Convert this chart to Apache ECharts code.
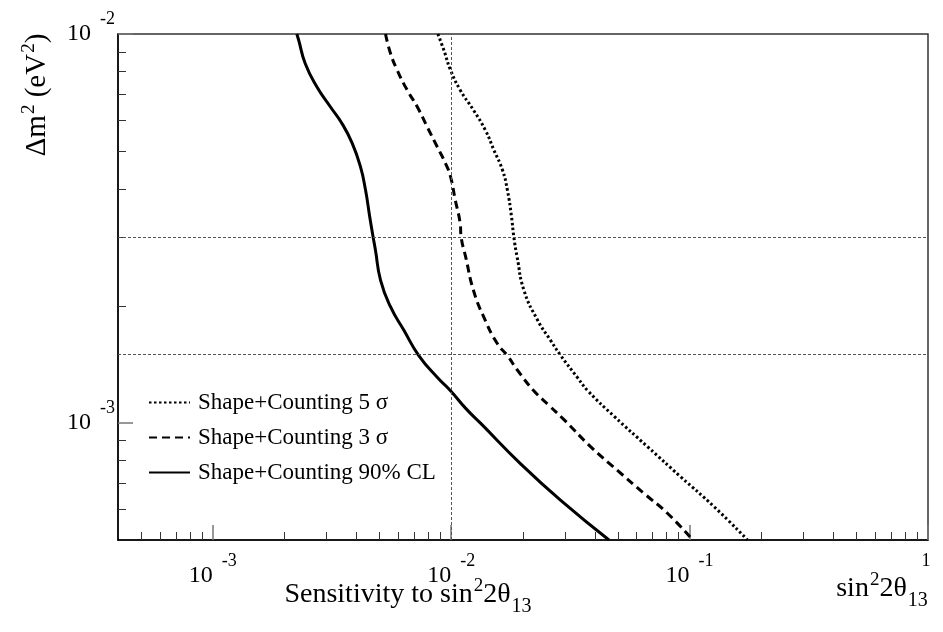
<!DOCTYPE html>
<html>
<head>
<meta charset="utf-8">
<script src="https://cdn.jsdelivr.net/npm/echarts@6/dist/echarts.min.js"></script>
<style>html,body{margin:0;padding:0;background:#fff}#c{width:943px;height:632px}</style>
</head>
<body>
<div id="c"></div>
<script>
// ---- data : [sin^2 2theta13, dm^2 (eV^2)] ----
const cl90 = [
  [2.25e-3,1.00e-2],[2.29e-3,9.65e-3],[2.44e-3,8.40e-3],[2.73e-3,7.32e-3],[3.11e-3,6.50e-3],
  [3.48e-3,5.89e-3],[3.84e-3,5.24e-3],[4.16e-3,4.56e-3],[4.37e-3,3.97e-3],[4.55e-3,3.39e-3],
  [4.70e-3,3.01e-3],[4.81e-3,2.78e-3],[5.05e-3,2.33e-3],[5.56e-3,1.99e-3],[6.33e-3,1.73e-3],
  [7.31e-3,1.49e-3],[8.73e-3,1.31e-3],[9.93e-3,1.21e-3],[1.15e-2,1.09e-3],[1.33e-2,9.97e-4],
  [1.95e-2,7.86e-4],[2.88e-2,6.32e-4],[4.59e-2,5.00e-4]
];
const sig3 = [
  [5.30e-3,1.00e-2],[5.56e-3,8.92e-3],[5.93e-3,8.08e-3],[6.53e-3,7.18e-3],[7.20e-3,6.50e-3],
  [7.93e-3,5.77e-3],[8.73e-3,5.13e-3],[9.46e-3,4.65e-3],[9.93e-3,4.30e-3],[1.04e-2,3.74e-3],
  [1.09e-2,3.26e-3],[1.10e-2,3.01e-3],[1.15e-2,2.67e-3],[1.24e-2,2.19e-3],[1.37e-2,1.87e-3],
  [1.56e-2,1.60e-3],[1.72e-2,1.49e-3],[1.89e-2,1.37e-3],[2.22e-2,1.21e-3],[2.57e-2,1.11e-3],
  [2.97e-2,1.02e-3],[3.85e-2,8.68e-4],[4.98e-2,7.55e-4],[6.45e-2,6.58e-4],[8.09e-2,5.85e-4],
  [1.03e-1,5.00e-4]
];
const sig5 = [
  [8.79e-3,1.00e-2],[9.31e-3,9.09e-3],[9.93e-3,8.08e-3],[1.09e-2,7.18e-3],[1.24e-2,6.37e-3],
  [1.39e-2,5.66e-3],[1.51e-2,5.03e-3],[1.64e-2,4.47e-3],[1.72e-2,3.97e-3],[1.79e-2,3.39e-3],
  [1.83e-2,3.01e-3],[1.89e-2,2.67e-3],[2.02e-2,2.19e-3],[2.30e-2,1.84e-3],[2.61e-2,1.63e-3],
  [2.88e-2,1.49e-3],[3.38e-2,1.31e-3],[3.74e-2,1.21e-3],[4.82e-2,1.04e-3],[6.67e-2,8.68e-4],
  [9.19e-2,7.26e-4],[1.27e-1,6.08e-4],[1.75e-1,5.00e-4]
];
const seriesNames = ['Shape+Counting 5 \u03c3', 'Shape+Counting 3 \u03c3', 'Shape+Counting 90% CL'];
const refX = [1e-2];
const refY = [3e-3, 1.5e-3];
const xRange = [4e-4, 1];
const yRange = [5e-4, 1e-2];
const xMajor = [1e-3, 1e-2, 1e-1, 1];
const xMinor = [5e-4,6e-4,7e-4,8e-4,9e-4, 2e-3,3e-3,4e-3,5e-3,6e-3,7e-3,8e-3,9e-3,
                2e-2,3e-2,4e-2,5e-2,6e-2,7e-2,8e-2,9e-2, 2e-1,3e-1,4e-1,5e-1,6e-1,7e-1,8e-1,9e-1];
const yMajor = [1e-3, 1e-2];
const yMinor = [6e-4,7e-4,8e-4,9e-4, 2e-3,3e-3,4e-3,5e-3,6e-3,7e-3,8e-3,9e-3];
const xTitle = 'Sensitivity to sin';
const yTitle = '\u0394m';

// ---- chart ----
const FF = '"Liberation Serif","DejaVu Serif",serif';
function powLabel(v) {
  const e = Math.round(Math.log10(v));
  if (e === 0) return '{o|1}';
  return '{b|10}{s|' + e + '}';
}
const richX = {
  b: {fontSize: 24, fontFamily: FF, color: '#000', padding: [12, 0, 0, 0]},
  s: {fontSize: 18, fontFamily: FF, color: '#000', verticalAlign: 'top', padding: [0, 0, 0, 9]},
  o: {fontSize: 18, fontFamily: FF, color: '#000', verticalAlign: 'top', padding: [0, 4, 0, 0]}
};
const richY = {
  b: {fontSize: 24, fontFamily: FF, color: '#000', padding: [12, 0, 12, 0]},
  s: {fontSize: 18, fontFamily: FF, color: '#000', verticalAlign: 'top', padding: [0, 0, 0, 9]}
};
const chart = echarts.init(document.getElementById('c'), null, {renderer: 'canvas'});
const baseLog = {type: 'log', logBase: 10, splitLine: {show: false}};
function hLine(v) { return [{coord: [xRange[0], v]}, {coord: [xRange[1], v]}]; }
function vLine(v) { return [{coord: [v, yRange[0]]}, {coord: [v, yRange[1]]}]; }
const titleRich = {
  m: {fontFamily: FF, fontSize: 28, fill: '#000', verticalAlign: 'bottom', padding: [0, 0, 8, 0]},
  p: {fontFamily: FF, fontSize: 19, fill: '#000', verticalAlign: 'bottom', padding: [0, 0, 21, 1]},
  d: {fontFamily: FF, fontSize: 20, fill: '#000', verticalAlign: 'bottom', padding: [0, 0, 0, 1]}
};
const option = {
  backgroundColor: '#fff',
  animation: false,
  grid: {left: 118, top: 34, right: 15, bottom: 92, show: true, borderColor: '#333', borderWidth: 1.5},
  xAxis: [
    Object.assign({}, baseLog, {
      min: xRange[0], max: xRange[1], position: 'bottom',
      axisLine: {show: true, lineStyle: {color: '#000', width: 1.5}},
      axisTick: {show: true, inside: true, length: 15, customValues: xMajor, lineStyle: {color: '#777', width: 1.5}},
      axisLabel: {show: true, customValues: xMajor.slice(0), formatter: powLabel, rich: richX, margin: 12, interval: 0}
    }),
    Object.assign({}, baseLog, {
      min: xRange[0], max: xRange[1], position: 'bottom', offset: 0,
      axisLine: {show: false},
      axisTick: {show: true, inside: true, length: 8, customValues: xMinor, lineStyle: {color: '#333', width: 1}},
      axisLabel: {show: false}
    })
  ],
  yAxis: [
    Object.assign({}, baseLog, {
      min: yRange[0], max: yRange[1], position: 'left',
      axisLine: {show: true, lineStyle: {color: '#000', width: 1.5}},
      axisTick: {show: true, inside: true, length: 15, customValues: yMajor, lineStyle: {color: '#777', width: 1.5}},
      axisLabel: {show: true, customValues: yMajor.slice(0), formatter: powLabel, rich: richY, margin: 3, interval: 0}
    }),
    Object.assign({}, baseLog, {
      min: yRange[0], max: yRange[1], position: 'left', offset: 0,
      axisLine: {show: false},
      axisTick: {show: true, inside: true, length: 8, customValues: yMinor, lineStyle: {color: '#333', width: 1}},
      axisLabel: {show: false}
    })
  ],
  legend: {
    orient: 'vertical', left: 143, top: 386, itemWidth: 41, itemHeight: 14, itemGap: 12,
    itemStyle: {opacity: 0},
    textStyle: {fontFamily: FF, fontSize: 23, color: '#000', padding: [0, 0, 0, 3]},
    data: seriesNames
  },
  series: [
    {
      name: seriesNames[0], type: 'line', data: sig5, xAxisIndex: 0, yAxisIndex: 0,
      symbol: 'none', smooth: 0.5,
      lineStyle: {color: '#000', width: 3, type: [2.5, 2.5]}, itemStyle: {color: '#000'},
      z: 3,
      markLine: {
        silent: true, symbol: 'none', label: {show: false},
        lineStyle: {color: '#555', width: 1, type: [3, 2]},
        data: refX.map(vLine).concat(refY.map(hLine))
      }
    },
    {
      name: seriesNames[1], type: 'line', data: sig3, xAxisIndex: 0, yAxisIndex: 0,
      symbol: 'none', smooth: 0.5,
      lineStyle: {color: '#000', width: 3, type: [8, 5]}, itemStyle: {color: '#000'}, z: 3
    },
    {
      name: seriesNames[2], type: 'line', data: cl90, xAxisIndex: 0, yAxisIndex: 0,
      symbol: 'none', smooth: 0.5,
      lineStyle: {color: '#000', width: 3, type: 'solid'}, itemStyle: {color: '#000'}, z: 3
    }
  ],
  graphic: [
    {
      type: 'text', x: 408, y: 577,
      style: {
        text: '{m|' + xTitle + '}{p|2}{m|2\u03b8}{d|13}',
        align: 'center', verticalAlign: 'top',
        rich: titleRich
      }
    },
    {
      type: 'text', x: 882, y: 571,
      style: {
        text: '{m|sin}{p|2}{m|2\u03b8}{d|13}',
        align: 'center', verticalAlign: 'top',
        rich: titleRich
      }
    },
    {
      type: 'text', x: 36, y: 95, rotation: Math.PI / 2,
      style: {
        text: '{m|' + yTitle + '}{p|2}{m| (eV}{p|2}{m|)}',
        align: 'center', verticalAlign: 'middle',
        rich: {
          m: {fontFamily: FF, fontSize: 29, fill: '#000', verticalAlign: 'bottom'},
          p: {fontFamily: FF, fontSize: 19, fill: '#000', verticalAlign: 'bottom', padding: [0, 0, 13, 1]}
        }
      }
    }
  ]
};
chart.setOption(option);
</script>
</body>
</html>
